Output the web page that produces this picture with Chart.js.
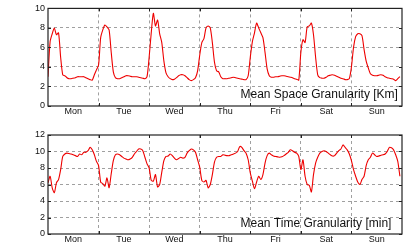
<!DOCTYPE html>
<html>
<head>
<meta charset="utf-8">
<script src="https://cdn.jsdelivr.net/npm/chart.js@4.4.1/dist/chart.umd.min.js"></script>
<style>
  html, body { margin: 0; padding: 0; background: #fff; }
  #wrap { position: relative; width: 419px; height: 246px; overflow: hidden; }
  canvas { position: absolute; left: 0; }
</style>
</head>
<body>
<div id="wrap">
  <canvas id="c1" width="419" height="120" style="top:0"></canvas>
  <canvas id="c2" width="419" height="126" style="top:120px"></canvas>
</div>
<script>
// ---- data (hourly values, Mon 00:00 .. Sun 23:00) ----
const days = ['Mon', 'Tue', 'Wed', 'Thu', 'Fri', 'Sat', 'Sun'];

const spaceKm = [
  // Mon
  3.0, 6.6, 7.4, 8.0, 7.3, 7.5, 5.0, 3.2, 3.1, 2.9, 2.8, 2.8, 2.85, 2.9, 3.0, 3.0, 3.0, 3.0, 2.9, 2.8, 2.7, 2.65, 3.2, 3.7,
  // Tue
  4.2, 7.0, 7.8, 8.3, 8.1, 7.8, 5.5, 3.5, 2.9, 2.8, 2.8, 2.9, 3.0, 3.1, 3.1, 3.05, 3.0, 3.0, 3.0, 2.95, 2.9, 2.85, 2.8, 3.0,
  // Wed
  5.0, 7.5, 9.5, 8.2, 8.8, 7.4, 6.5, 4.6, 3.4, 3.0, 2.8, 2.7, 2.75, 2.9, 3.1, 3.2, 3.2, 3.1, 2.9, 2.7, 2.6, 2.7, 2.9, 3.6,
  // Thu
  5.2, 6.5, 6.9, 8.0, 8.2, 8.0, 6.5, 4.5, 3.6, 3.5, 3.0, 2.8, 2.8, 2.8, 2.85, 2.9, 2.95, 2.9, 2.85, 2.8, 2.75, 2.7, 2.7, 3.1,
  // Fri
  5.0, 6.6, 7.5, 8.5, 8.0, 7.5, 7.0, 5.5, 3.8, 3.1, 2.95, 2.95, 3.0, 3.0, 3.05, 3.1, 3.1, 3.05, 3.0, 2.95, 2.9, 2.8, 2.75, 2.65,
  // Sat
  5.5, 6.8, 6.5, 8.1, 8.2, 8.5, 7.3, 5.0, 3.2, 2.9, 2.85, 2.85, 2.95, 3.1, 3.15, 3.2, 3.15, 3.05, 2.95, 2.85, 2.8, 2.7, 2.7, 2.8,
  // Sun
  4.0, 6.0, 7.1, 7.4, 7.4, 7.2, 5.8, 4.6, 3.9, 3.3, 3.15, 3.1, 3.1, 3.15, 3.2, 3.15, 3.0, 2.9, 2.85, 2.8, 2.75, 2.6, 2.8, 3.0
];

const timeMin = [
  // Mon
  6.2, 7.0, 5.6, 5.0, 6.2, 6.6, 7.8, 9.4, 9.7, 9.8, 9.75, 9.7, 9.6, 9.5, 9.4, 9.7, 9.6, 9.9, 9.9, 10.1, 10.5, 10.2, 9.6, 8.8,
  // Tue
  8.3, 6.3, 6.1, 5.8, 6.8, 5.6, 7.3, 8.9, 9.6, 9.7, 9.6, 9.4, 9.2, 9.1, 9.0, 9.1, 9.3, 9.7, 10.0, 10.3, 10.3, 10.1, 9.3, 8.5,
  // Wed
  8.0, 6.5, 6.4, 7.2, 5.7, 6.0, 7.5, 8.9, 9.4, 9.45, 9.7, 9.5, 9.2, 9.0, 9.15, 9.3, 9.2, 9.3, 9.8, 10.1, 10.3, 10.2, 9.9, 9.0,
  // Thu
  8.1, 6.5, 6.3, 6.5, 5.6, 6.0, 7.2, 8.7, 9.3, 9.4, 9.4, 9.6, 9.55, 9.5, 9.5, 9.6, 9.7, 9.8, 10.0, 10.6, 10.5, 10.1, 9.8, 9.0,
  // Fri
  7.4, 6.4, 5.5, 6.3, 7.0, 6.6, 7.2, 8.6, 9.5, 9.8, 9.6, 9.45, 9.4, 9.35, 9.3, 9.35, 9.5, 9.7, 9.9, 10.2, 10.1, 9.9, 9.8, 9.4,
  // Sat
  7.8, 9.0, 7.0, 6.0, 5.9, 5.1, 7.2, 8.6, 9.3, 9.8, 10.0, 10.1, 10.0, 9.8, 9.6, 9.45, 9.5, 9.8, 10.1, 10.3, 10.8, 10.5, 10.2, 9.7,
  // Sun
  8.9, 7.8, 7.0, 6.3, 6.0, 6.6, 7.0, 8.3, 9.0, 9.3, 9.8, 9.6, 9.4, 9.45, 9.55, 9.6, 9.7, 10.0, 10.5, 10.45, 10.2, 9.6, 8.8, 7.0
];

const spaceTicks = [0, 2, 4, 6, 8, 10];
const timeTicks = [0, 2, 4, 6, 8, 10, 12];
const spaceTitle = 'Mean Space Granularity [Km]';
const timeTitle = 'Mean Time Granularity [min]';
// -----------------------------------------------

const FONT = '"Liberation Sans", Arial, Helvetica, sans-serif';
const GRID = '#a0a0a0';
const FRAME = '#222';

function framePlugin(title, titleBaseline) {
  return {
    id: 'frame',
    afterDraw(chart) {
      const { ctx, chartArea: a } = chart;
      ctx.save();
      ctx.strokeStyle = FRAME;
      ctx.lineWidth = 1.2;
      ctx.setLineDash([]);
      ctx.strokeRect(a.left, a.top, a.right - a.left, a.bottom - a.top);
      // small inward ticks
      ctx.lineWidth = 1;
      const xs = chart.scales.x, ys = chart.scales.y;
      ctx.beginPath();
      for (let d = 1; d < days.length; d++) {
        const px = Math.round(xs.getPixelForValue(d * 24)) + 0.5;
        ctx.moveTo(px, a.bottom); ctx.lineTo(px, a.bottom - 3);
        ctx.moveTo(px, a.top); ctx.lineTo(px, a.top + 3);
      }
      ys.ticks.forEach(t => {
        const py = Math.round(ys.getPixelForValue(t.value)) + 0.5;
        ctx.moveTo(a.left, py); ctx.lineTo(a.left + 3, py);
        ctx.moveTo(a.right, py); ctx.lineTo(a.right - 3, py);
      });
      ctx.stroke();
      ctx.fillStyle = '#111';
      ctx.font = '12px ' + FONT;
      ctx.textAlign = 'left';
      ctx.textBaseline = 'alphabetic';
      ctx.fillText(title, 240.5, titleBaseline);
      ctx.restore();
    }
  };
}

function makeChart(id, values, yTicks, title, padTop, xHeight, titleBaseline) {
  const ymax = yTicks[yTicks.length - 1];
  return new Chart(document.getElementById(id), {
    type: 'line',
    data: {
      datasets: [{
        data: values.map((v, i) => ({ x: i, y: v })),
        borderColor: '#ee0000',
        borderWidth: 1.1,
        pointRadius: 0,
        tension: 0.25,
        fill: false
      }]
    },
    options: {
      responsive: false,
      animation: false,
      devicePixelRatio: 1,
      layout: { padding: { top: padTop, right: 17, left: 0, bottom: 0 } },
      plugins: { legend: { display: false }, tooltip: { enabled: false } },
      scales: {
        x: {
          type: 'linear',
          min: 0,
          max: days.length * 24,
          afterBuildTicks(scale) {
            const t = [];
            for (let v = 0; v <= days.length * 24; v += 12) t.push({ value: v });
            scale.ticks = t;
          },
          afterFit(scale) { scale.height = xHeight; },
          grid: {
            drawTicks: false,
            lineWidth: 1,
            color: (c) => {
              const v = c.tick ? c.tick.value : -1;
              return (v > 0 && v < days.length * 24 && v % 24 === 0) ? GRID : 'rgba(0,0,0,0)';
            }
          },
          border: { display: false, dash: [3, 3] },
          ticks: {
            autoSkip: false,
            maxRotation: 0,
            padding: 0,
            color: '#111',
            font: { family: FONT, size: 9 },
            callback: (v) => (v % 24 === 12) ? days[(v - 12) / 24] : ''
          }
        },
        y: {
          min: 0,
          max: ymax,
          afterBuildTicks(scale) { scale.ticks = yTicks.map(v => ({ value: v })); },
          afterFit(scale) { scale.width = 48; },
          grid: {
            drawTicks: false,
            lineWidth: 1,
            color: (c) => {
              const v = c.tick ? c.tick.value : -1;
              return (v > 0 && v < ymax) ? GRID : 'rgba(0,0,0,0)';
            }
          },
          border: { display: false, dash: [3, 3] },
          ticks: {
            padding: 3,
            color: '#111',
            font: { family: FONT, size: 9 }
          }
        }
      }
    },
    plugins: [framePlugin(title, titleBaseline)]
  });
}

makeChart('c1', spaceKm, spaceTicks, spaceTitle, 6, 14, 98.3);
makeChart('c2', timeMin, timeTicks, timeTitle, 15, 12, 107);
</script>
</body>
</html>
